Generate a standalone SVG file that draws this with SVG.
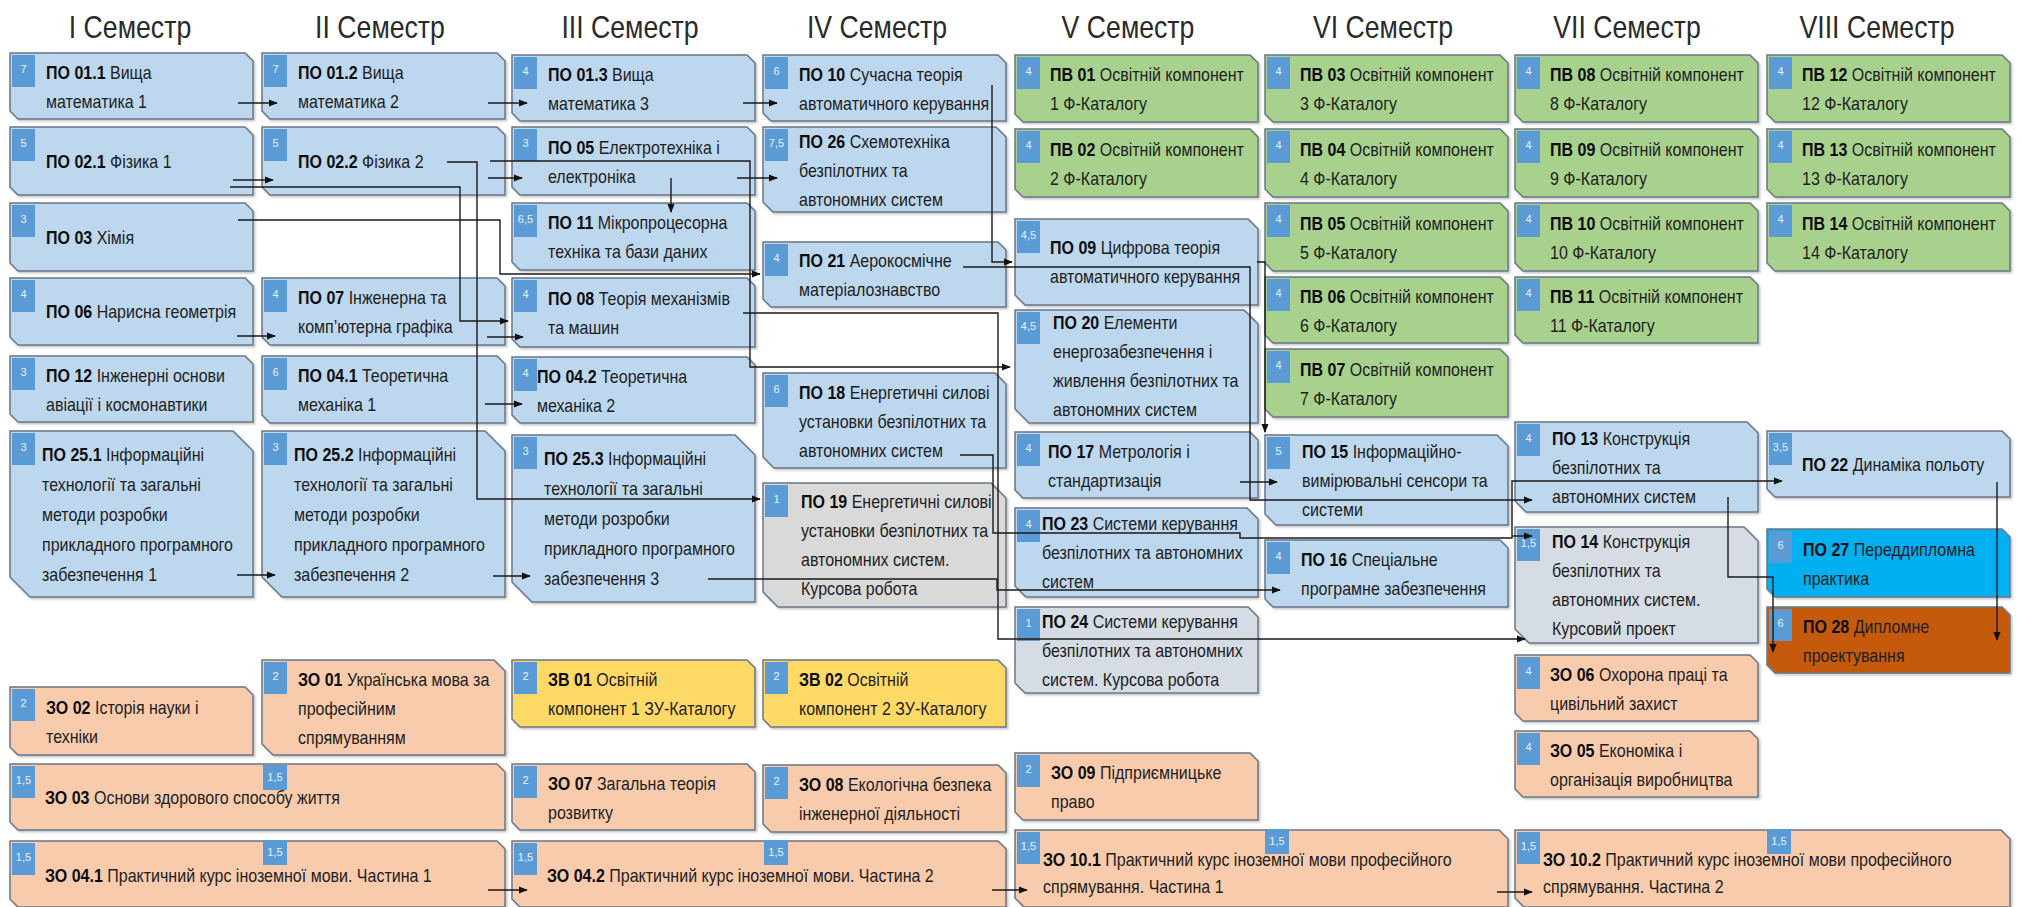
<svg xmlns="http://www.w3.org/2000/svg" width="2022" height="907" viewBox="0 0 2022 907">
<defs>
<filter id="sh" x="-5%" y="-5%" width="110%" height="120%"><feDropShadow dx="1.5" dy="1.5" stdDeviation="1" flood-color="#000" flood-opacity="0.25"/></filter>
<marker id="ah" viewBox="0 0 10 10" refX="9" refY="5" markerWidth="9" markerHeight="9" markerUnits="userSpaceOnUse" orient="auto"><path d="M0,1 L10,5 L0,9 Z" fill="#111"/></marker>
</defs>
<style>
.b{fill:#bdd7ee}.g{fill:#a9d18e}.p{fill:#f8cbad}.y{fill:#ffd966}.gr{fill:#d9d9d9}.gb{fill:#d6dce4}.c{fill:#00b0f0}.o{fill:#c55a11}
.bx{stroke:#6a7786;stroke-width:1.5;filter:url(#sh)}
.bd{fill:#5b9bd5}
.bt{font:11px "Liberation Sans",Arial,sans-serif;fill:#e8f1fa;text-anchor:middle}
.t{font:18px "Liberation Sans",Arial,sans-serif;fill:#1e1e1e}
.k{font-weight:bold;fill:#0d0d0d}
.h{font:31px "Liberation Sans",Arial,sans-serif;fill:#2a2a2a;text-anchor:middle}
.ln{fill:none;stroke:#1a1a1a;stroke-width:1.4}
.ar{marker-end:url(#ah)}
</style>
<rect width="2022" height="907" fill="#ffffff"/>
<g id="headers">
<text class="h" transform="translate(130,38) scale(.86,1)">I Семестр</text>
<text class="h" transform="translate(380,38) scale(.86,1)">II Семестр</text>
<text class="h" transform="translate(630,38) scale(.86,1)">III Семестр</text>
<text class="h" transform="translate(877,38) scale(.86,1)">IV Семестр</text>
<text class="h" transform="translate(1128,38) scale(.86,1)">V Семестр</text>
<text class="h" transform="translate(1383,38) scale(.86,1)">VI Семестр</text>
<text class="h" transform="translate(1627,38) scale(.86,1)">VII Семестр</text>
<text class="h" transform="translate(1877,38) scale(.86,1)">VIII Семестр</text>
</g>

<g id="po011"><path class="bx b" d="M10,53H245L253,61V119H18L10,111Z"/><rect class="bd" x="12" y="55" width="23" height="32"/><text class="bt" x="23.5" y="73">7</text><text class="t" transform="translate(46,79) scale(.89,1)"><tspan x="0" y="0"><tspan class="k">ПО 01.1</tspan> Вища</tspan><tspan x="0" y="29">математика 1</tspan></text></g>
<g id="po021"><path class="bx b" d="M10,127H245L253,135V195H18L10,187Z"/><rect class="bd" x="12" y="129" width="23" height="32"/><text class="bt" x="23.5" y="147">5</text><text class="t" transform="translate(46,168) scale(.89,1)"><tspan class="k">ПО 02.1</tspan> Фізика 1</text></g>
<g id="po03"><path class="bx b" d="M10,203H245L253,211V271H18L10,263Z"/><rect class="bd" x="12" y="205" width="23" height="32"/><text class="bt" x="23.5" y="223">3</text><text class="t" transform="translate(46,244) scale(.89,1)"><tspan class="k">ПО 03</tspan> Хімія</text></g>
<g id="po06"><path class="bx b" d="M10,278H245L253,286V345H18L10,337Z"/><rect class="bd" x="12" y="280" width="23" height="32"/><text class="bt" x="23.5" y="298">4</text><text class="t" transform="translate(46,318) scale(.89,1)"><tspan class="k">ПО 06</tspan> Нарисна геометрія</text></g>
<g id="po12"><path class="bx b" d="M10,356H245L253,364V422H18L10,414Z"/><rect class="bd" x="12" y="358" width="23" height="32"/><text class="bt" x="23.5" y="376">3</text><text class="t" transform="translate(46,382) scale(.89,1)"><tspan x="0" y="0"><tspan class="k">ПО 12</tspan> Інженерні основи</tspan><tspan x="0" y="29">авіації і космонавтики</tspan></text></g>
<g id="po251"><path class="bx b" d="M10,431H233L253,451V597H30L10,577Z"/><rect class="bd" x="12" y="433" width="23" height="32"/><text class="bt" x="23.5" y="451">3</text><text class="t" transform="translate(42,461) scale(.89,1)"><tspan x="0" y="0"><tspan class="k">ПО 25.1</tspan> Інформаційні</tspan><tspan x="0" y="30">технології та загальні</tspan><tspan x="0" y="60">методи розробки</tspan><tspan x="0" y="90">прикладного програмного</tspan><tspan x="0" y="120">забезпечення 1</tspan></text></g>
<g id="zo02"><path class="bx p" d="M10,687H245L253,695V755H18L10,747Z"/><rect class="bd" x="12" y="689" width="23" height="32"/><text class="bt" x="23.5" y="707">2</text><text class="t" transform="translate(46,714) scale(.89,1)"><tspan x="0" y="0"><tspan class="k">ЗО 02</tspan> Історія науки і</tspan><tspan x="0" y="29">техніки</tspan></text></g>
<g id="zo03"><path class="bx p" d="M10,764H497L505,772V830H18L10,822Z"/><rect class="bd" x="12" y="766" width="23" height="32"/><text class="bt" x="23.5" y="784">1,5</text><rect class="bd" x="263" y="765" width="24" height="25"/><text class="bt" x="275" y="781">1,5</text><text class="t" transform="translate(45,804) scale(.89,1)"><tspan class="k">ЗО 03</tspan> Основи здорового способу життя</text></g>
<g id="zo041"><path class="bx p" d="M10,841H497L505,849V907H18L10,899Z"/><rect class="bd" x="12" y="843" width="23" height="32"/><text class="bt" x="23.5" y="861">1,5</text><rect class="bd" x="263" y="840" width="24" height="25"/><text class="bt" x="275" y="856">1,5</text><text class="t" transform="translate(45,882) scale(.89,1)"><tspan class="k">ЗО 04.1</tspan> Практичний курс іноземної мови. Частина 1</text></g>

<g id="po012"><path class="bx b" d="M262,53H497L505,61V119H270L262,111Z"/><rect class="bd" x="264" y="55" width="23" height="32"/><text class="bt" x="275.5" y="73">7</text><text class="t" transform="translate(298,79) scale(.89,1)"><tspan x="0" y="0"><tspan class="k">ПО 01.2</tspan> Вища</tspan><tspan x="0" y="29">математика 2</tspan></text></g>
<g id="po022"><path class="bx b" d="M262,127H497L505,135V195H270L262,187Z"/><rect class="bd" x="264" y="129" width="23" height="32"/><text class="bt" x="275.5" y="147">5</text><text class="t" transform="translate(298,168) scale(.89,1)"><tspan class="k">ПО 02.2</tspan> Фізика 2</text></g>
<g id="po07"><path class="bx b" d="M262,278H497L505,286V345H270L262,337Z"/><rect class="bd" x="264" y="280" width="23" height="32"/><text class="bt" x="275.5" y="298">4</text><text class="t" transform="translate(298,304) scale(.89,1)"><tspan x="0" y="0"><tspan class="k">ПО 07</tspan> Інженерна та</tspan><tspan x="0" y="29">комп’ютерна графіка</tspan></text></g>
<g id="po041"><path class="bx b" d="M262,356H497L505,364V423H270L262,415Z"/><rect class="bd" x="264" y="358" width="23" height="32"/><text class="bt" x="275.5" y="376">6</text><text class="t" transform="translate(298,382) scale(.89,1)"><tspan x="0" y="0"><tspan class="k">ПО 04.1</tspan> Теоретична</tspan><tspan x="0" y="29">механіка 1</tspan></text></g>
<g id="po252"><path class="bx b" d="M262,431H485L505,451V597H282L262,577Z"/><rect class="bd" x="264" y="433" width="23" height="32"/><text class="bt" x="275.5" y="451">3</text><text class="t" transform="translate(294,461) scale(.89,1)"><tspan x="0" y="0"><tspan class="k">ПО 25.2</tspan> Інформаційні</tspan><tspan x="0" y="30">технології та загальні</tspan><tspan x="0" y="60">методи розробки</tspan><tspan x="0" y="90">прикладного програмного</tspan><tspan x="0" y="120">забезпечення 2</tspan></text></g>
<g id="zo01"><path class="bx p" d="M262,660H494L505,671V755H273L262,744Z"/><rect class="bd" x="264" y="662" width="23" height="32"/><text class="bt" x="275.5" y="680">2</text><text class="t" transform="translate(298,686) scale(.89,1)"><tspan x="0" y="0"><tspan class="k">ЗО 01</tspan> Українська мова за</tspan><tspan x="0" y="29">професійним</tspan><tspan x="0" y="58">спрямуванням</tspan></text></g>

<g id="po013"><path class="bx b" d="M512,55H747L755,63V121H520L512,113Z"/><rect class="bd" x="514" y="57" width="23" height="32"/><text class="bt" x="525.5" y="75">4</text><text class="t" transform="translate(548,81) scale(.89,1)"><tspan x="0" y="0"><tspan class="k">ПО 01.3</tspan> Вища</tspan><tspan x="0" y="29">математика 3</tspan></text></g>
<g id="po05"><path class="bx b" d="M512,127H747L755,135V195H520L512,187Z"/><rect class="bd" x="514" y="129" width="23" height="32"/><text class="bt" x="525.5" y="147">3</text><text class="t" transform="translate(548,154) scale(.89,1)"><tspan x="0" y="0"><tspan class="k">ПО 05</tspan> Електротехніка і</tspan><tspan x="0" y="29">електроніка</tspan></text></g>
<g id="po11"><path class="bx b" d="M512,203H747L755,211V270H520L512,262Z"/><rect class="bd" x="514" y="205" width="23" height="32"/><text class="bt" x="525.5" y="223">6,5</text><text class="t" transform="translate(548,229) scale(.89,1)"><tspan x="0" y="0"><tspan class="k">ПО 11</tspan> Мікропроцесорна</tspan><tspan x="0" y="29">техніка та бази даних</tspan></text></g>
<g id="po08"><path class="bx b" d="M512,278H747L755,286V347H520L512,339Z"/><rect class="bd" x="514" y="280" width="23" height="32"/><text class="bt" x="525.5" y="298">4</text><text class="t" transform="translate(548,305) scale(.89,1)"><tspan x="0" y="0"><tspan class="k">ПО 08</tspan> Теорія механізмів</tspan><tspan x="0" y="29">та машин</tspan></text></g>
<g id="po042"><path class="bx b" d="M512,357H747L755,365V423H520L512,415Z"/><rect class="bd" x="514" y="359" width="23" height="32"/><text class="bt" x="525.5" y="377">4</text><text class="t" transform="translate(537,383) scale(.89,1)"><tspan x="0" y="0"><tspan class="k">ПО 04.2</tspan> Теоретична</tspan><tspan x="0" y="29">механіка 2</tspan></text></g>
<g id="po253"><path class="bx b" d="M512,435H735L755,455V602H532L512,582Z"/><rect class="bd" x="514" y="437" width="23" height="32"/><text class="bt" x="525.5" y="455">3</text><text class="t" transform="translate(544,465) scale(.89,1)"><tspan x="0" y="0"><tspan class="k">ПО 25.3</tspan> Інформаційні</tspan><tspan x="0" y="30">технології та загальні</tspan><tspan x="0" y="60">методи розробки</tspan><tspan x="0" y="90">прикладного програмного</tspan><tspan x="0" y="120">забезпечення 3</tspan></text></g>
<g id="zv01"><path class="bx y" d="M512,660H747L755,668V727H520L512,719Z"/><rect class="bd" x="514" y="662" width="23" height="32"/><text class="bt" x="525.5" y="680">2</text><text class="t" transform="translate(548,686) scale(.89,1)"><tspan x="0" y="0"><tspan class="k">ЗВ 01</tspan> Освітній</tspan><tspan x="0" y="29">компонент 1 ЗУ-Каталогу</tspan></text></g>
<g id="zo07"><path class="bx p" d="M512,764H747L755,772V830H520L512,822Z"/><rect class="bd" x="514" y="766" width="23" height="32"/><text class="bt" x="525.5" y="784">2</text><text class="t" transform="translate(548,790) scale(.89,1)"><tspan x="0" y="0"><tspan class="k">ЗО 07</tspan> Загальна теорія</tspan><tspan x="0" y="29">розвитку</tspan></text></g>
<g id="zo042"><path class="bx p" d="M512,841H998L1006,849V907H520L512,899Z"/><rect class="bd" x="514" y="843" width="23" height="32"/><text class="bt" x="525.5" y="861">1,5</text><rect class="bd" x="764" y="840" width="24" height="25"/><text class="bt" x="776" y="856">1,5</text><text class="t" transform="translate(547,882) scale(.89,1)"><tspan class="k">ЗО 04.2</tspan> Практичний курс іноземної мови. Частина 2</text></g>

<g id="po10"><path class="bx b" d="M763,55H998L1006,63V121H771L763,113Z"/><rect class="bd" x="765" y="57" width="23" height="32"/><text class="bt" x="776.5" y="75">6</text><text class="t" transform="translate(799,81) scale(.89,1)"><tspan x="0" y="0"><tspan class="k">ПО 10</tspan> Сучасна теорія</tspan><tspan x="0" y="29">автоматичного керування</tspan></text></g>
<g id="po26"><path class="bx b" d="M763,127H996L1006,137V212H773L763,202Z"/><rect class="bd" x="765" y="129" width="23" height="32"/><text class="bt" x="776.5" y="147">7,5</text><text class="t" transform="translate(799,148) scale(.89,1)"><tspan x="0" y="0"><tspan class="k">ПО 26</tspan> Схемотехніка</tspan><tspan x="0" y="29">безпілотних та</tspan><tspan x="0" y="58">автономних систем</tspan></text></g>
<g id="po21"><path class="bx b" d="M763,242H998L1006,250V307H771L763,299Z"/><rect class="bd" x="765" y="244" width="23" height="32"/><text class="bt" x="776.5" y="262">4</text><text class="t" transform="translate(799,267) scale(.89,1)"><tspan x="0" y="0"><tspan class="k">ПО 21</tspan> Аерокосмічне</tspan><tspan x="0" y="29">матеріалознавство</tspan></text></g>
<g id="po18"><path class="bx b" d="M763,373H995L1006,384V468H774L763,457Z"/><rect class="bd" x="765" y="375" width="23" height="32"/><text class="bt" x="776.5" y="393">6</text><text class="t" transform="translate(799,399) scale(.89,1)"><tspan x="0" y="0"><tspan class="k">ПО 18</tspan> Енергетичні силові</tspan><tspan x="0" y="29">установки безпілотних та</tspan><tspan x="0" y="58">автономних систем</tspan></text></g>
<g id="po19"><path class="bx gr" d="M763,483H991L1006,498V607H778L763,592Z"/><rect class="bd" x="765" y="485" width="23" height="32"/><text class="bt" x="776.5" y="503">1</text><text class="t" transform="translate(801,508) scale(.89,1)"><tspan x="0" y="0"><tspan class="k">ПО 19</tspan> Енергетичні силові</tspan><tspan x="0" y="29">установки безпілотних та</tspan><tspan x="0" y="58">автономних систем.</tspan><tspan x="0" y="87">Курсова робота</tspan></text></g>
<g id="zv02"><path class="bx y" d="M763,660H998L1006,668V727H771L763,719Z"/><rect class="bd" x="765" y="662" width="23" height="32"/><text class="bt" x="776.5" y="680">2</text><text class="t" transform="translate(799,686) scale(.89,1)"><tspan x="0" y="0"><tspan class="k">ЗВ 02</tspan> Освітній</tspan><tspan x="0" y="29">компонент 2 ЗУ-Каталогу</tspan></text></g>
<g id="zo08"><path class="bx p" d="M763,765H998L1006,773V832H771L763,824Z"/><rect class="bd" x="765" y="767" width="23" height="32"/><text class="bt" x="776.5" y="785">2</text><text class="t" transform="translate(799,791) scale(.89,1)"><tspan x="0" y="0"><tspan class="k">ЗО 08</tspan> Екологічна безпека</tspan><tspan x="0" y="29">інженерної діяльності</tspan></text></g>

<g id="pv01"><path class="bx g" d="M1015,55H1250L1258,63V122H1023L1015,114Z"/><rect class="bd" x="1017" y="57" width="23" height="32"/><text class="bt" x="1028.5" y="75">4</text><text class="t" transform="translate(1050,81) scale(.89,1)"><tspan x="0" y="0"><tspan class="k">ПВ 01</tspan> Освітній компонент</tspan><tspan x="0" y="29">1 Ф-Каталогу</tspan></text></g>
<g id="pv02"><path class="bx g" d="M1015,129H1250L1258,137V197H1023L1015,189Z"/><rect class="bd" x="1017" y="131" width="23" height="32"/><text class="bt" x="1028.5" y="149">4</text><text class="t" transform="translate(1050,156) scale(.89,1)"><tspan x="0" y="0"><tspan class="k">ПВ 02</tspan> Освітній компонент</tspan><tspan x="0" y="29">2 Ф-Каталогу</tspan></text></g>
<g id="po09"><path class="bx b" d="M1015,219H1248L1258,229V305H1025L1015,295Z"/><rect class="bd" x="1017" y="221" width="23" height="32"/><text class="bt" x="1028.5" y="239">4,5</text><text class="t" transform="translate(1050,254) scale(.89,1)"><tspan x="0" y="0"><tspan class="k">ПО 09</tspan> Цифрова теорія</tspan><tspan x="0" y="29">автоматичного керування</tspan></text></g>
<g id="po20"><path class="bx b" d="M1015,310H1244L1258,324V423H1029L1015,409Z"/><rect class="bd" x="1017" y="312" width="23" height="32"/><text class="bt" x="1028.5" y="330">4,5</text><text class="t" transform="translate(1053,329) scale(.89,1)"><tspan x="0" y="0"><tspan class="k">ПО 20</tspan> Елементи</tspan><tspan x="0" y="29">енергозабезпечення і</tspan><tspan x="0" y="58">живлення безпілотних та</tspan><tspan x="0" y="87">автономних систем</tspan></text></g>
<g id="po17"><path class="bx b" d="M1015,432H1250L1258,440V498H1023L1015,490Z"/><rect class="bd" x="1017" y="434" width="23" height="32"/><text class="bt" x="1028.5" y="452">4</text><text class="t" transform="translate(1048,458) scale(.89,1)"><tspan x="0" y="0"><tspan class="k">ПО 17</tspan> Метрологія і</tspan><tspan x="0" y="29">стандартизація</tspan></text></g>
<g id="po23"><path class="bx b" d="M1015,508H1247L1258,519V597H1026L1015,586Z"/><rect class="bd" x="1017" y="510" width="23" height="32"/><text class="bt" x="1028.5" y="528">4</text><text class="t" transform="translate(1042,530) scale(.89,1)"><tspan x="0" y="0"><tspan class="k">ПО 23</tspan> Системи керування</tspan><tspan x="0" y="29">безпілотних та автономних</tspan><tspan x="0" y="58">систем</tspan></text></g>
<g id="po24"><path class="bx gb" d="M1015,607H1248L1258,617V693H1025L1015,683Z"/><rect class="bd" x="1017" y="609" width="23" height="32"/><text class="bt" x="1028.5" y="627">1</text><text class="t" transform="translate(1042,628) scale(.89,1)"><tspan x="0" y="0"><tspan class="k">ПО 24</tspan> Системи керування</tspan><tspan x="0" y="29">безпілотних та автономних</tspan><tspan x="0" y="58">систем. Курсова робота</tspan></text></g>
<g id="zo09"><path class="bx p" d="M1015,753H1250L1258,761V820H1023L1015,812Z"/><rect class="bd" x="1017" y="755" width="23" height="32"/><text class="bt" x="1028.5" y="773">2</text><text class="t" transform="translate(1051,779) scale(.89,1)"><tspan x="0" y="0"><tspan class="k">ЗО 09</tspan> Підприємницьке</tspan><tspan x="0" y="29">право</tspan></text></g>
<g id="zo101"><path class="bx p" d="M1015,830H1499L1508,839V907H1024L1015,898Z"/><rect class="bd" x="1017" y="832" width="23" height="32"/><text class="bt" x="1028.5" y="850">1,5</text><rect class="bd" x="1265" y="829" width="24" height="25"/><text class="bt" x="1277" y="845">1,5</text><text class="t" transform="translate(1043,866) scale(.89,1)"><tspan x="0" y="0"><tspan class="k">ЗО 10.1</tspan> Практичний курс іноземної мови професійного</tspan><tspan x="0" y="27">спрямування. Частина 1</tspan></text></g>

<g id="pv03"><path class="bx g" d="M1265,55H1500L1508,63V122H1273L1265,114Z"/><rect class="bd" x="1267" y="57" width="23" height="32"/><text class="bt" x="1278.5" y="75">4</text><text class="t" transform="translate(1300,81) scale(.89,1)"><tspan x="0" y="0"><tspan class="k">ПВ 03</tspan> Освітній компонент</tspan><tspan x="0" y="29">3 Ф-Каталогу</tspan></text></g>
<g id="pv04"><path class="bx g" d="M1265,129H1500L1508,137V197H1273L1265,189Z"/><rect class="bd" x="1267" y="131" width="23" height="32"/><text class="bt" x="1278.5" y="149">4</text><text class="t" transform="translate(1300,156) scale(.89,1)"><tspan x="0" y="0"><tspan class="k">ПВ 04</tspan> Освітній компонент</tspan><tspan x="0" y="29">4 Ф-Каталогу</tspan></text></g>
<g id="pv05"><path class="bx g" d="M1265,203H1500L1508,211V271H1273L1265,263Z"/><rect class="bd" x="1267" y="205" width="23" height="32"/><text class="bt" x="1278.5" y="223">4</text><text class="t" transform="translate(1300,230) scale(.89,1)"><tspan x="0" y="0"><tspan class="k">ПВ 05</tspan> Освітній компонент</tspan><tspan x="0" y="29">5 Ф-Каталогу</tspan></text></g>
<g id="pv06"><path class="bx g" d="M1265,277H1500L1508,285V343H1273L1265,335Z"/><rect class="bd" x="1267" y="279" width="23" height="32"/><text class="bt" x="1278.5" y="297">4</text><text class="t" transform="translate(1300,303) scale(.89,1)"><tspan x="0" y="0"><tspan class="k">ПВ 06</tspan> Освітній компонент</tspan><tspan x="0" y="29">6 Ф-Каталогу</tspan></text></g>
<g id="pv07"><path class="bx g" d="M1265,349H1500L1508,357V417H1273L1265,409Z"/><rect class="bd" x="1267" y="351" width="23" height="32"/><text class="bt" x="1278.5" y="369">4</text><text class="t" transform="translate(1300,376) scale(.89,1)"><tspan x="0" y="0"><tspan class="k">ПВ 07</tspan> Освітній компонент</tspan><tspan x="0" y="29">7 Ф-Каталогу</tspan></text></g>
<g id="po15"><path class="bx b" d="M1265,435H1497L1508,446V525H1276L1265,514Z"/><rect class="bd" x="1267" y="437" width="23" height="32"/><text class="bt" x="1278.5" y="455">5</text><text class="t" transform="translate(1302,458) scale(.89,1)"><tspan x="0" y="0"><tspan class="k">ПО 15</tspan> Інформаційно-</tspan><tspan x="0" y="29">вимірювальні сенсори та</tspan><tspan x="0" y="58">системи</tspan></text></g>
<g id="po16"><path class="bx b" d="M1265,540H1500L1508,548V607H1273L1265,599Z"/><rect class="bd" x="1267" y="542" width="23" height="32"/><text class="bt" x="1278.5" y="560">4</text><text class="t" transform="translate(1301,566) scale(.89,1)"><tspan x="0" y="0"><tspan class="k">ПО 16</tspan> Спеціальне</tspan><tspan x="0" y="29">програмне забезпечення</tspan></text></g>

<g id="pv08"><path class="bx g" d="M1515,55H1750L1758,63V122H1523L1515,114Z"/><rect class="bd" x="1517" y="57" width="23" height="32"/><text class="bt" x="1528.5" y="75">4</text><text class="t" transform="translate(1550,81) scale(.89,1)"><tspan x="0" y="0"><tspan class="k">ПВ 08</tspan> Освітній компонент</tspan><tspan x="0" y="29">8 Ф-Каталогу</tspan></text></g>
<g id="pv09"><path class="bx g" d="M1515,129H1750L1758,137V197H1523L1515,189Z"/><rect class="bd" x="1517" y="131" width="23" height="32"/><text class="bt" x="1528.5" y="149">4</text><text class="t" transform="translate(1550,156) scale(.89,1)"><tspan x="0" y="0"><tspan class="k">ПВ 09</tspan> Освітній компонент</tspan><tspan x="0" y="29">9 Ф-Каталогу</tspan></text></g>
<g id="pv10"><path class="bx g" d="M1515,203H1750L1758,211V271H1523L1515,263Z"/><rect class="bd" x="1517" y="205" width="23" height="32"/><text class="bt" x="1528.5" y="223">4</text><text class="t" transform="translate(1550,230) scale(.89,1)"><tspan x="0" y="0"><tspan class="k">ПВ 10</tspan> Освітній компонент</tspan><tspan x="0" y="29">10 Ф-Каталогу</tspan></text></g>
<g id="pv11"><path class="bx g" d="M1515,277H1750L1758,285V343H1523L1515,335Z"/><rect class="bd" x="1517" y="279" width="23" height="32"/><text class="bt" x="1528.5" y="297">4</text><text class="t" transform="translate(1550,303) scale(.89,1)"><tspan x="0" y="0"><tspan class="k">ПВ 11</tspan> Освітній компонент</tspan><tspan x="0" y="29">11 Ф-Каталогу</tspan></text></g>
<g id="po13"><path class="bx b" d="M1515,422H1747L1758,433V512H1526L1515,501Z"/><rect class="bd" x="1517" y="424" width="23" height="32"/><text class="bt" x="1528.5" y="442">4</text><text class="t" transform="translate(1552,445) scale(.89,1)"><tspan x="0" y="0"><tspan class="k">ПО 13</tspan> Конструкція</tspan><tspan x="0" y="29">безпілотних та</tspan><tspan x="0" y="58">автономних систем</tspan></text></g>
<g id="po14"><path class="bx gb" d="M1515,527H1744L1758,541V643H1529L1515,629Z"/><rect class="bd" x="1517" y="529" width="23" height="32"/><text class="bt" x="1528.5" y="547">1,5</text><text class="t" transform="translate(1552,548) scale(.89,1)"><tspan x="0" y="0"><tspan class="k">ПО 14</tspan> Конструкція</tspan><tspan x="0" y="29">безпілотних та</tspan><tspan x="0" y="58">автономних систем.</tspan><tspan x="0" y="87">Курсовий проект</tspan></text></g>
<g id="zo06"><path class="bx p" d="M1515,655H1750L1758,663V721H1523L1515,713Z"/><rect class="bd" x="1517" y="657" width="23" height="32"/><text class="bt" x="1528.5" y="675">4</text><text class="t" transform="translate(1550,681) scale(.89,1)"><tspan x="0" y="0"><tspan class="k">ЗО 06</tspan> Охорона праці та</tspan><tspan x="0" y="29">цивільний захист</tspan></text></g>
<g id="zo05"><path class="bx p" d="M1515,731H1750L1758,739V797H1523L1515,789Z"/><rect class="bd" x="1517" y="733" width="23" height="32"/><text class="bt" x="1528.5" y="751">4</text><text class="t" transform="translate(1550,757) scale(.89,1)"><tspan x="0" y="0"><tspan class="k">ЗО 05</tspan> Економіка і</tspan><tspan x="0" y="29">організація виробництва</tspan></text></g>
<g id="zo102"><path class="bx p" d="M1515,830H2001L2010,839V907H1524L1515,898Z"/><rect class="bd" x="1517" y="832" width="23" height="32"/><text class="bt" x="1528.5" y="850">1,5</text><rect class="bd" x="1767" y="829" width="24" height="25"/><text class="bt" x="1779" y="845">1,5</text><text class="t" transform="translate(1543,866) scale(.89,1)"><tspan x="0" y="0"><tspan class="k">ЗО 10.2</tspan> Практичний курс іноземної мови професійного</tspan><tspan x="0" y="27">спрямування. Частина 2</tspan></text></g>

<g id="pv12"><path class="bx g" d="M1767,55H2002L2010,63V122H1775L1767,114Z"/><rect class="bd" x="1769" y="57" width="23" height="32"/><text class="bt" x="1780.5" y="75">4</text><text class="t" transform="translate(1802,81) scale(.89,1)"><tspan x="0" y="0"><tspan class="k">ПВ 12</tspan> Освітній компонент</tspan><tspan x="0" y="29">12 Ф-Каталогу</tspan></text></g>
<g id="pv13"><path class="bx g" d="M1767,129H2002L2010,137V197H1775L1767,189Z"/><rect class="bd" x="1769" y="131" width="23" height="32"/><text class="bt" x="1780.5" y="149">4</text><text class="t" transform="translate(1802,156) scale(.89,1)"><tspan x="0" y="0"><tspan class="k">ПВ 13</tspan> Освітній компонент</tspan><tspan x="0" y="29">13 Ф-Каталогу</tspan></text></g>
<g id="pv14"><path class="bx g" d="M1767,203H2002L2010,211V271H1775L1767,263Z"/><rect class="bd" x="1769" y="205" width="23" height="32"/><text class="bt" x="1780.5" y="223">4</text><text class="t" transform="translate(1802,230) scale(.89,1)"><tspan x="0" y="0"><tspan class="k">ПВ 14</tspan> Освітній компонент</tspan><tspan x="0" y="29">14 Ф-Каталогу</tspan></text></g>
<g id="po22"><path class="bx b" d="M1767,431H2002L2010,439V497H1775L1767,489Z"/><rect class="bd" x="1769" y="433" width="23" height="32"/><text class="bt" x="1780.5" y="451">3,5</text><text class="t" transform="translate(1802,471) scale(.89,1)"><tspan class="k">ПО 22</tspan> Динаміка польоту</text></g>
<g id="po27"><path class="bx c" d="M1767,529H2002L2010,537V597H1775L1767,589Z"/><rect class="bd" x="1769" y="531" width="23" height="32"/><text class="bt" x="1780.5" y="549">6</text><text class="t" transform="translate(1803,556) scale(.89,1)"><tspan x="0" y="0"><tspan class="k">ПО 27</tspan> Переддипломна</tspan><tspan x="0" y="29">практика</tspan></text></g>
<g id="po28"><path class="bx o" d="M1767,607H2002L2010,615V673H1775L1767,665Z"/><rect class="bd" x="1769" y="609" width="23" height="32"/><text class="bt" x="1780.5" y="627">6</text><text class="t" transform="translate(1803,633) scale(.89,1)"><tspan x="0" y="0"><tspan class="k">ПО 28</tspan> Дипломне</tspan><tspan x="0" y="29">проектування</tspan></text></g>

<g id="connectors">
<path class="ln ar" d="M238,103H277"/>
<path class="ln ar" d="M488,103H527"/>
<path class="ln ar" d="M743,103H777"/>
<path class="ln ar" d="M233,180H273"/>
<path class="ln ar" d="M230,187H460V321H508"/>
<path class="ln ar" d="M447,162H477V499H760"/>
<path class="ln ar" d="M490,161H750V367H1010"/>
<path class="ln ar" d="M488,178H522"/>
<path class="ln ar" d="M238,220H500V274H760"/>
<path class="ln ar" d="M671,178V212"/>
<path class="ln ar" d="M737,178H777"/>
<path class="ln ar" d="M992,85V262H1012"/>
<path class="ln ar" d="M963,267H1250V500H1532"/>
<path class="ln ar" d="M743,313H998V639H1525"/>
<path class="ln ar" d="M960,455H993V533H1240V538H1512V481H1782"/>
<path class="ln ar" d="M1512,536H1532"/>
<path class="ln ar" d="M1240,482H1277"/>
<path class="ln ar" d="M1257,262H1265V432"/>
<path class="ln ar" d="M708,579H997V590H1280"/>
<path class="ln ar" d="M237,336H275"/>
<path class="ln ar" d="M487,337H523"/>
<path class="ln ar" d="M485,404H522"/>
<path class="ln ar" d="M237,575H275"/>
<path class="ln ar" d="M493,576H530"/>
<path class="ln ar" d="M488,890H527"/>
<path class="ln ar" d="M992,890H1027"/>
<path class="ln ar" d="M1497,892H1532"/>
<path class="ln ar" d="M1728,497V577H1773V652"/>
<path class="ln ar" d="M1997,482V640"/>
</g>
</svg>
